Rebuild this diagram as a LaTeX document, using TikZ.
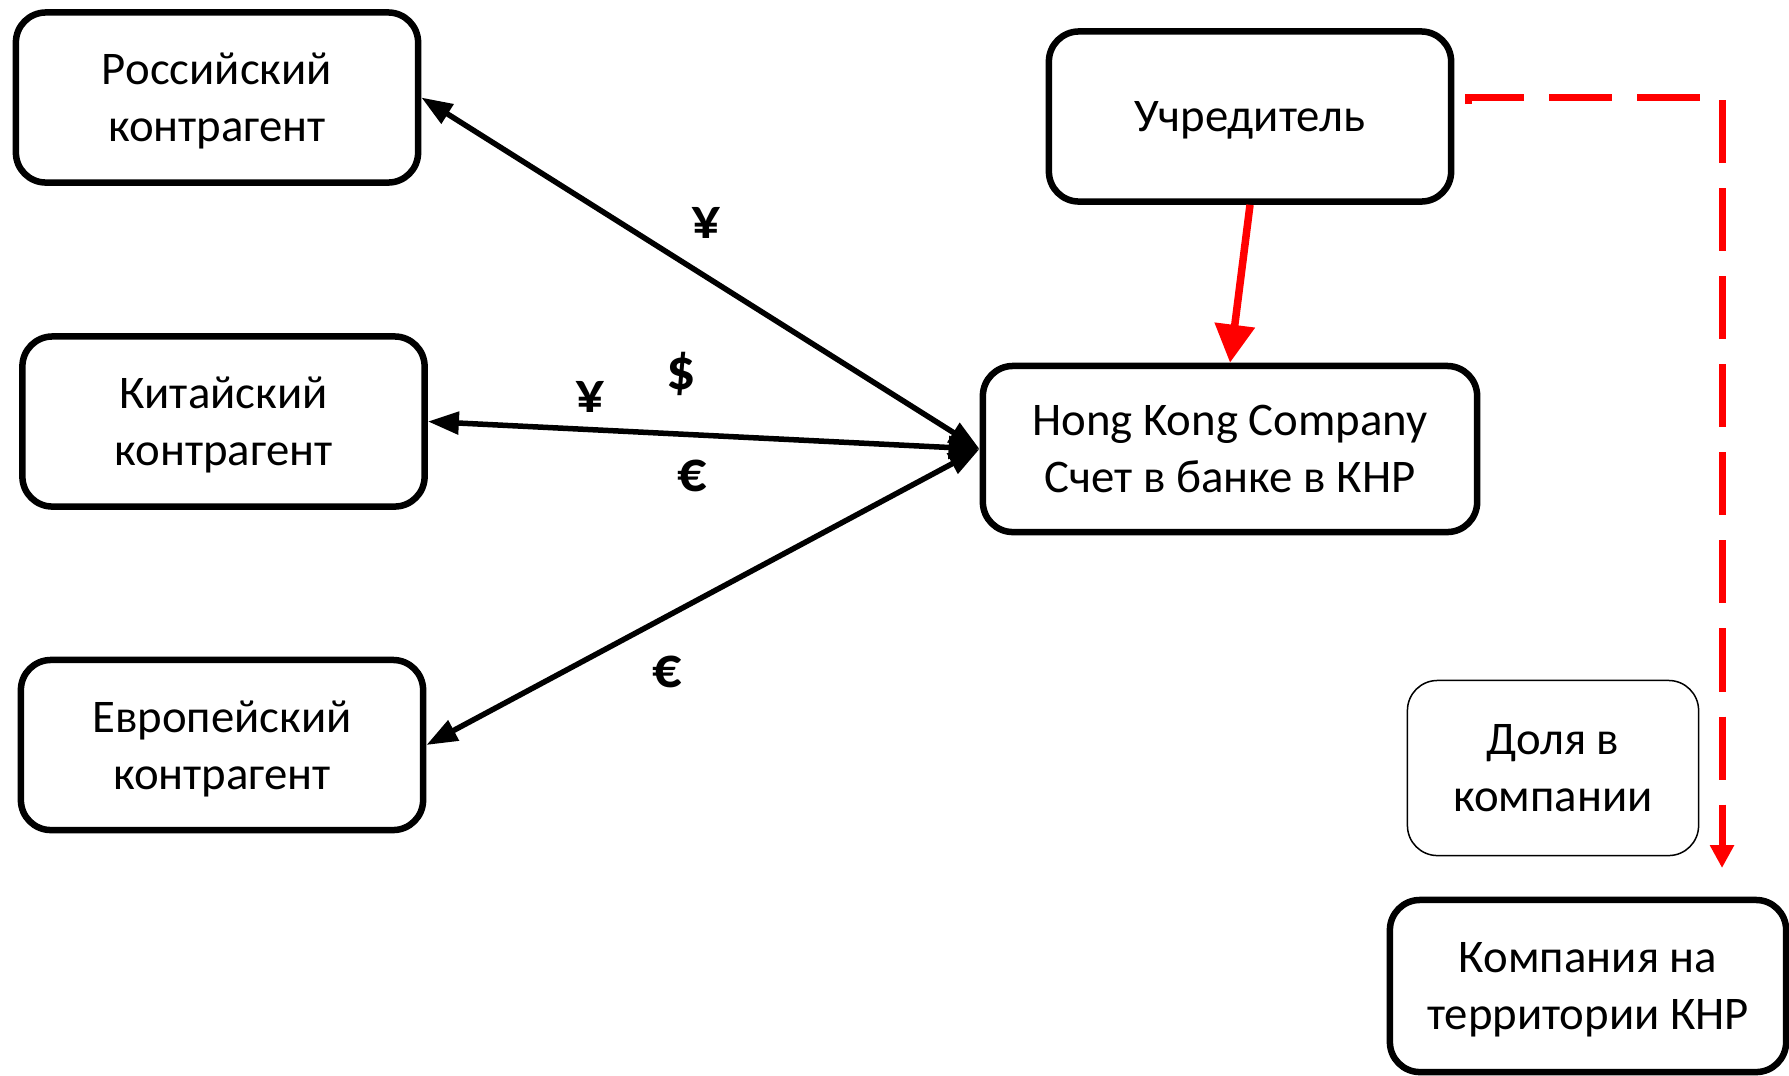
\documentclass[tikz,border=0pt]{standalone}
\usepackage{fontspec}
\setmainfont{Carlito}
\usetikzlibrary{arrows.meta}

\begin{document}
\begin{tikzpicture}[x = 0.01cm, y = -0.01cm,
    box/.style = {draw, rounded corners = 0.3cm, line width = 0.065cm, align = center,
      inner sep = 0pt, minimum width = 4.02cm, minimum height = 1.70cm, text depth = 0pt,
      font = \fontsize{13.3pt}{16.2pt}\selectfont},
    money/.style = {font = \fontsize{16.5pt}{18pt}\selectfont\bfseries},
    flow/.style = {<->, line width = 0.055cm, >={Triangle[length = 0.31cm, width = 0.22cm]}}]
  \useasboundingbox (0,0) rectangle (1789,1075);
  \node (rus)   at (217,97.5)  [box] {Российский\\контрагент};
  \node (china) at (223.5,421.5) [box] {Китайский\\контрагент};
  \node (euro)  at (222,745)   [box] {Европейский\\контрагент};
  \node (found) at (1250,116.5) [box] {Учредитель};
  \node (hk)    at (1230,449)  [box, text depth = -0.07cm, minimum width = 4.94cm, minimum height = 1.66cm] {Hong Kong Company\\Счет в банке в КНР};
  \node (share) at (1553,768)  [box, line width = 0.015cm, minimum width = 2.91cm, minimum height = 1.75cm] {Доля в\\компании};
  \node (cnco)  at (1588,986)  [box, minimum width = 3.96cm, minimum height = 1.72cm] {Компания на\\территории КНР};

  \node (yen1)  at (706,223) [money] {¥};
  \node (usd)   at (681,374) [money] {\$};
  \node (yen2)  at (590,397) [money] {¥};
  \node (eur1)  at (692,476) [money] {€};
  \node (eur2)  at (667,672) [money] {€};

  \draw [flow] (hk.west) -- (rus.east);
  \draw [flow] (hk.west) -- (china.east);
  \draw [flow] (hk.west) -- (euro.east);
  \draw [->, red, line width = 0.075cm, >={Triangle[length = 0.38cm, width = 0.39cm]}] (found.south) -- (hk.north);

  \coordinate (dstart) at (1468,104);
  \coordinate (dend)   at (1722,868);
  \draw [->, red, line width = 0.07cm, dash pattern = on 0.63cm off 0.25cm,
    >={Triangle[length = 0.23cm, width = 0.23cm]}] (dstart) -- ++(0,-7) -| (dend);
\end{tikzpicture}
\end{document}
